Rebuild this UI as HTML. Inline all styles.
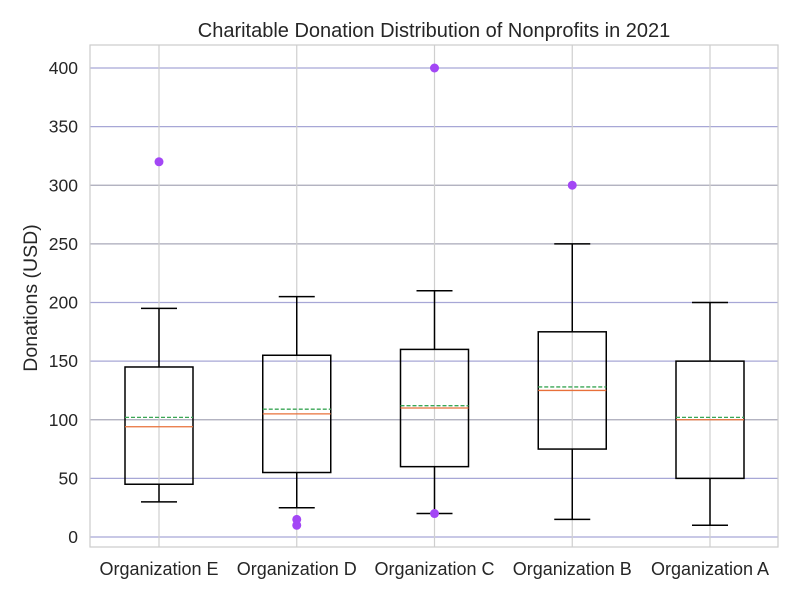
<!DOCTYPE html>
<html><head><meta charset="utf-8"><style>
body{margin:0;background:#fff;}
svg text{font-family:"Liberation Sans","DejaVu Sans",sans-serif;fill:#262626;}
</style></head><body>
<svg id="chart" width="800" height="600">
<rect x="0" y="0" width="800" height="600" fill="#fff"/>
<text x="434" y="37" font-size="20" text-anchor="middle">Charitable Donation Distribution of Nonprofits in 2021</text>
<text transform="translate(37,298) rotate(-90)" font-size="19.5" text-anchor="middle">Donations (USD)</text>
<g id="grid"></g><g id="marks"></g><g id="axes"></g>
<rect x="90" y="45" width="688" height="502" fill="none" stroke="#ccc" stroke-width="1.2"/>
</svg>
<script>
const categories=["Organization E","Organization D","Organization C","Organization B","Organization A"];
const whisLo=[30,25,20,15,10];
const q1=[45,55,60,75,50];
const medians=[94,105,110,125,100];
const means=[102,109,112,128,102];
const q3=[145,155,160,175,150];
const whisHi=[195,205,210,250,200];
const outliers=[[320],[10,15],[400,20],[300],[]];
const yTicks=[0,50,100,150,200,250,300,350,400];
const greyTicks=[100,250,300];
const NS="http://www.w3.org/2000/svg";
const y=v=>537-v*469/400;
const x=i=>159+i*137.75;
function mk(tag,attrs,parent){const e=document.createElementNS(NS,tag);for(const k in attrs)e.setAttribute(k,attrs[k]);document.getElementById(parent).appendChild(e);return e;}
yTicks.forEach(t=>{
  const l=mk('line',{x1:90,x2:778,y1:y(t),y2:y(t),stroke:greyTicks.includes(t)?'#a8a8b8':'#a7a7d6','stroke-width':1.2},'grid');
  
  
  const tx=mk('text',{x:78,y:y(t)+6,'font-size':17.5,'text-anchor':'end'},'axes');tx.textContent=t;
  
  
});
categories.forEach((c,i)=>{
  const cx=x(i);
  const g=mk('line',{x1:cx,x2:cx,y1:45,y2:547,stroke:'#cfcfcf','stroke-width':1.2},'grid');
  
  
  const tx=mk('text',{x:cx,y:575,'font-size':18,'text-anchor':'middle'},'axes');tx.textContent=c;
  
  
  const grp=mk('g',{},'marks');
  
  
  const add=(tag,a)=>{const e=document.createElementNS(NS,tag);for(const k in a)e.setAttribute(k,a[k]);grp.appendChild(e);return e;};
  add('line',{x1:cx,x2:cx,y1:y(whisLo[i]),y2:y(q1[i]),stroke:'#000','stroke-width':1.5});
  add('line',{x1:cx,x2:cx,y1:y(whisHi[i]),y2:y(q3[i]),stroke:'#000','stroke-width':1.5});
  add('line',{x1:cx-18,x2:cx+18,y1:y(whisLo[i]),y2:y(whisLo[i]),stroke:'#000','stroke-width':1.5});
  add('line',{x1:cx-18,x2:cx+18,y1:y(whisHi[i]),y2:y(whisHi[i]),stroke:'#000','stroke-width':1.5});
  add('rect',{x:cx-34,y:y(q3[i]),width:68,height:y(q1[i])-y(q3[i]),fill:'none',stroke:'#000','stroke-width':1.5});
  add('line',{x1:cx-34,x2:cx+34,y1:y(medians[i]),y2:y(medians[i]),stroke:'#e8703a','stroke-width':1.3});
  add('line',{x1:cx-34,x2:cx+34,y1:y(means[i]),y2:y(means[i]),stroke:'#3aa655','stroke-width':1.3,'stroke-dasharray':'4,2'});
  outliers[i].forEach(o=>{add('circle',{cx:cx,cy:y(o),r:4.5,fill:'#a347f5'});});
});
</script>
</body></html>
